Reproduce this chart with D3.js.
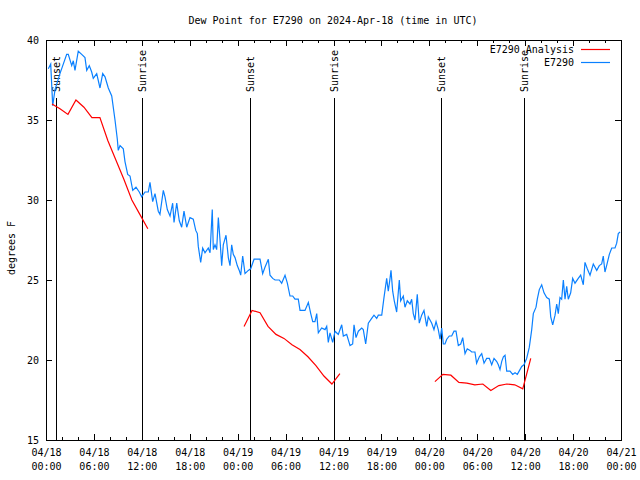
<!DOCTYPE html>
<html>
<head>
<meta charset="utf-8">
<script src="https://cdn.jsdelivr.net/npm/d3@7"></script>
<style>
  body { margin: 0; background: #fff; }
  text { font-family: "DejaVu Sans Mono", "Liberation Mono", monospace; font-size: 10px; fill: #000; }
</style>
</head>
<body>
<div id="chart"></div>
<script>
// hours after 2024-04-18 00:00 UTC
var obsHours = [0.29, 0.59, 0.84, 1.13, 1.75, 2.59, 2.79, 3.22, 3.42, 3.63, 4.04, 4.47, 4.88, 5.10, 5.42, 5.72, 5.92, 6.35, 6.76, 7.10,
	7.39, 7.80, 8.23, 8.64, 8.93, 9.05, 9.27, 9.68, 9.89, 10.23, 10.52, 10.86, 11.27, 11.68, 11.98, 12.40, 12.81, 13.02, 13.36, 13.65,
	14.06, 14.27, 14.69, 14.90, 15.19, 15.53, 15.86, 16.03, 16.37, 16.69, 16.99, 17.28, 17.62, 18.03, 18.44, 18.75, 18.95, 19.07, 19.37, 19.62,
	19.91, 20.32, 20.54, 20.82, 20.95, 21.16, 21.37, 21.58, 21.79, 22.00, 22.20, 22.54, 22.83, 23.04, 23.25, 23.45, 23.67, 23.95, 24.20, 24.38,
	24.63, 24.92, 25.33, 25.63, 26.05, 26.38, 26.80, 27.13, 27.42, 27.84, 28.05, 28.39, 28.68, 29.21, 29.51, 29.93, 30.22, 30.55, 30.89, 31.18,
	31.59, 31.81, 32.43, 32.85, 33.15, 33.40, 33.68, 33.90, 34.10, 34.52, 34.94, 35.15, 35.35, 35.56, 35.90, 36.19, 36.60, 37.03, 37.23, 37.65,
	38.07, 38.40, 38.57, 38.82, 39.11, 39.53, 39.73, 40.03, 40.36, 40.78, 41.07, 41.41, 41.61, 42.04, 42.32, 42.66, 42.86, 43.08, 43.20, 43.41,
	43.61, 43.91, 44.24, 44.41, 44.74, 44.95, 45.24, 45.58, 45.79, 45.99, 46.21, 46.49, 46.74, 47.04, 47.33, 47.67, 47.87, 48.30, 48.58, 48.84,
	49.12, 49.34, 49.55, 49.75, 49.96, 50.18, 50.50, 50.80, 51.09, 51.34, 51.63, 51.93, 52.18, 52.47, 52.75, 53.09, 53.30, 53.71, 53.92, 54.26,
	54.56, 54.85, 55.18, 55.51, 55.81, 56.10, 56.44, 56.64, 56.85, 57.06, 57.27, 57.48, 57.69, 58.10, 58.44, 58.73, 59.02, 59.35, 59.57, 59.85,
	60.19, 60.52, 60.82, 61.02, 61.36, 61.52, 61.77, 62.07, 62.36, 62.70, 63.02, 63.20, 63.45, 63.74, 63.95, 64.15, 64.36, 64.57, 64.78, 64.99,
	65.20, 65.40, 65.70, 65.95, 66.24, 66.65, 66.95, 67.28, 67.49, 67.78, 68.12, 68.53, 68.96, 69.28, 69.58, 69.78, 69.99, 70.20, 70.54, 70.84,
	71.25, 71.46, 71.66, 71.88];
var obsDew = [38.2, 38.5, 35.9, 36.9, 37.9, 39.1, 39.1, 38.4, 38.7, 38.1, 39.3, 39.1, 38.9, 38.1, 38.4, 38.0, 37.6, 37.9, 37.0, 37.9,
	37.7, 37.0, 36.5, 35.0, 33.8, 33.1, 33.4, 33.2, 32.4, 31.6, 31.5, 30.6, 30.8, 30.5, 30.2, 30.5, 30.5, 31.1, 29.9, 30.4,
	29.3, 29.1, 30.6, 30.2, 29.4, 29.0, 29.8, 28.6, 29.8, 28.7, 28.3, 29.3, 28.3, 28.9, 28.8, 28.1, 27.9, 27.1, 26.1, 27.0,
	26.7, 27.0, 26.7, 29.4, 26.9, 27.2, 26.9, 28.9, 27.5, 25.9, 27.2, 27.8, 26.4, 25.9, 27.2, 26.6, 26.4, 25.9, 25.6, 25.3,
	26.5, 25.4, 25.6, 25.7, 26.3, 26.3, 26.3, 25.4, 25.8, 26.3, 25.3, 25.1, 25.0, 25.0, 24.8, 25.3, 24.8, 24.0, 24.0, 23.8,
	23.8, 23.1, 23.1, 23.6, 22.9, 22.4, 22.4, 22.9, 21.7, 22.0, 21.9, 22.1, 21.1, 21.7, 21.1, 21.8, 21.6, 22.2, 21.5, 21.6,
	20.9, 21.0, 22.2, 21.4, 21.8, 22.0, 21.9, 21.0, 22.3, 22.6, 22.8, 22.6, 22.8, 22.8, 23.9, 25.1, 24.3, 25.1, 25.6, 24.3,
	23.7, 23.0, 25.0, 23.7, 24.0, 23.3, 23.7, 23.5, 23.8, 22.9, 22.5, 24.1, 22.3, 22.8, 23.1, 22.1, 22.7, 22.3, 21.9, 22.4,
	21.9, 21.3, 22.0, 21.0, 21.0, 21.3, 21.5, 21.5, 21.8, 21.8, 20.9, 21.0, 21.4, 20.4, 20.7, 20.6, 20.5, 20.5, 19.8, 20.2,
	20.4, 19.8, 20.1, 20.1, 19.7, 20.1, 19.9, 19.7, 19.4, 19.9, 20.2, 20.3, 19.3, 19.3, 19.1, 19.2, 19.1, 19.4, 19.6, 19.7,
	20.1, 20.8, 21.9, 22.9, 23.3, 23.8, 24.4, 24.7, 24.2, 23.9, 23.8, 22.7, 22.2, 22.8, 23.5, 22.9, 23.9, 23.8, 25.0, 23.8,
	24.6, 23.8, 24.2, 25.1, 24.8, 25.1, 25.3, 24.7, 26.1, 25.7, 25.3, 26.0, 25.6, 25.9, 26.0, 26.5, 25.5, 25.9, 26.6, 27.0,
	27.0, 27.3, 27.9, 28.0];

// hourly analysis runs, one per night
var anaStart = [0.75, 24.8, 48.7];
var anaDew1 = [36.0, 35.7, 35.35, 36.25, 35.8, 35.15, 35.15, 33.7, 32.5, 31.3, 30.0, 29.1, 28.2];
var anaDew2 = [22.1, 23.1, 22.95, 22.1, 21.6, 21.35, 20.95, 20.65, 20.2, 19.65, 19.0, 18.5, 19.15];
var anaDew3 = [18.65, 19.1, 19.05, 18.6, 18.55, 18.45, 18.5, 18.1, 18.4, 18.5, 18.45, 18.2, 20.1];

var sunEvents = ["Sunset", "Sunrise", "Sunset", "Sunrise", "Sunset", "Sunrise"];
var sunHours = [1.25, 11.98, 25.5, 36.06, 49.4, 59.85];

var yTicks = [15, 20, 25, 30, 35, 40];
var legendNames = ["E7290 Analysis", "E7290"];
var colors = ["#ff0000", "#0a80ff"];

var t0 = Date.UTC(2024, 3, 18);
var toDate = function(h) {
	return new Date(t0 + h * 3600e3);
};

var margin = { top: 40, right: 19, bottom: 40, left: 46 };
var width = 640 - margin.left - margin.right;
var height = 480 - margin.top - margin.bottom;

var svg = d3.select("#chart").append("svg")
	.attr("width", 640)
	.attr("height", 480);

var x = d3.scaleUtc()
	.domain([toDate(0), toDate(72)])
	.range([margin.left, margin.left + width]);
var y = d3.scaleLinear()
	.domain([15, 40])
	.range([margin.top + height, margin.top]);

// title
svg.append("text")
	.attr("x", 333)
	.attr("y", 24)
	.attr("text-anchor", "middle")
	.text("Dew Point for E7290 on 2024-Apr-18 (time in UTC)");

// y label
svg.append("text")
	.attr("transform", "translate(15,248) rotate(-90)")
	.attr("text-anchor", "middle")
	.text("degrees F");

// x axes: major ticks every 6h, minor every 2h, pointing inward
var majors = d3.utcHour.every(6).range(toDate(0), toDate(72.1));
var minors = d3.utcHour.every(2).range(toDate(0), toDate(72.1));
var fmtDay = d3.utcFormat("%m/%d"), fmtTime = d3.utcFormat("%H:%M");

var styleAxis = function(g) {
	g.select(".domain").remove();
	g.selectAll("line").attr("stroke", "#000").attr("shape-rendering", "crispEdges");
};

svg.append("g")
	.attr("transform", "translate(0," + (margin.top + height) + ")")
	.call(d3.axisBottom(x).tickValues(minors).tickSize(-3).tickFormat(""))
	.call(styleAxis);
var xAxis = svg.append("g")
	.attr("transform", "translate(0," + (margin.top + height) + ")")
	.call(d3.axisBottom(x).tickValues(majors).tickSizeInner(-6).tickPadding(12).tickFormat(fmtDay))
	.call(styleAxis);
xAxis.selectAll("text")
	.attr("font-size", null).attr("font-family", null)
	.each(function(d) {
		var t = d3.select(this);
		t.text(null);
		t.append("tspan").attr("x", 0).attr("dy", "0.35em").text(fmtDay(d));
		t.append("tspan").attr("x", 0).attr("dy", "1.45em").text(fmtTime(d));
	});

svg.append("g")
	.attr("transform", "translate(0," + margin.top + ")")
	.call(d3.axisTop(x).tickValues(minors).tickSize(-3).tickFormat(""))
	.call(styleAxis);
svg.append("g")
	.attr("transform", "translate(0," + margin.top + ")")
	.call(d3.axisTop(x).tickValues(majors).tickSize(-6).tickFormat(""))
	.call(styleAxis);

// y axes
var yAxis = svg.append("g")
	.attr("transform", "translate(" + margin.left + ",0)")
	.call(d3.axisLeft(y).tickValues(yTicks).tickSizeInner(-6).tickPadding(7))
	.call(styleAxis);
yAxis.selectAll("text").attr("font-size", null).attr("font-family", null);
svg.append("g")
	.attr("transform", "translate(" + (margin.left + width) + ",0)")
	.call(d3.axisRight(y).tickValues(yTicks).tickSize(-6).tickFormat(""))
	.call(styleAxis);

// plot frame
svg.append("rect")
	.attr("x", margin.left + 0.5)
	.attr("y", margin.top + 0.5)
	.attr("width", width)
	.attr("height", height)
	.attr("fill", "none")
	.attr("stroke", "#000");

// sunrise / sunset markers
var sun = svg.selectAll("g.sun")
	.data(sunHours)
	.enter().append("g")
	.attr("class", "sun")
	.attr("transform", function(d) {
		return "translate(" + (Math.round(x(toDate(d))) + 0.5) + ",0)";
	});
sun.append("line")
	.attr("y1", 98)
	.attr("y2", margin.top + height)
	.attr("stroke", "#000")
	.attr("shape-rendering", "crispEdges");
sun.append("text")
	.attr("transform", "translate(3.5,92) rotate(-90)")
	.text(function(d, i) {
		return sunEvents[i];
	});

var line = d3.line()
	.x(function(d) { return x(toDate(d[0])); })
	.y(function(d) { return y(d[1]); });

// observations
var obs = obsHours.map(function(h, i) {
	return [h, obsDew[i]];
});
svg.append("path")
	.datum(obs)
	.attr("fill", "none")
	.attr("stroke", colors[1])
	.attr("stroke-width", 1.2)
	.attr("d", line);

// analysis runs
[anaDew1, anaDew2, anaDew3].forEach(function(vals, k) {
	var pts = vals.map(function(v, i) {
		return [anaStart[k] + i, v];
	});
	svg.append("path")
		.datum(pts)
		.attr("fill", "none")
		.attr("stroke", colors[0])
		.attr("stroke-width", 1.2)
		.attr("d", line);
});

// legend
var legend = svg.selectAll("g.legend")
	.data(legendNames)
	.enter().append("g")
	.attr("class", "legend")
	.attr("transform", function(d, i) {
		return "translate(0," + (49.5 + i * 13) + ")";
	});
legend.append("text")
	.attr("x", 574)
	.attr("dy", "0.35em")
	.attr("text-anchor", "end")
	.text(function(d) { return d; });
legend.append("line")
	.attr("x1", 581)
	.attr("x2", 610)
	.attr("stroke", function(d, i) { return colors[i]; })
	.attr("stroke-width", 1.2);
</script>
</body>
</html>
